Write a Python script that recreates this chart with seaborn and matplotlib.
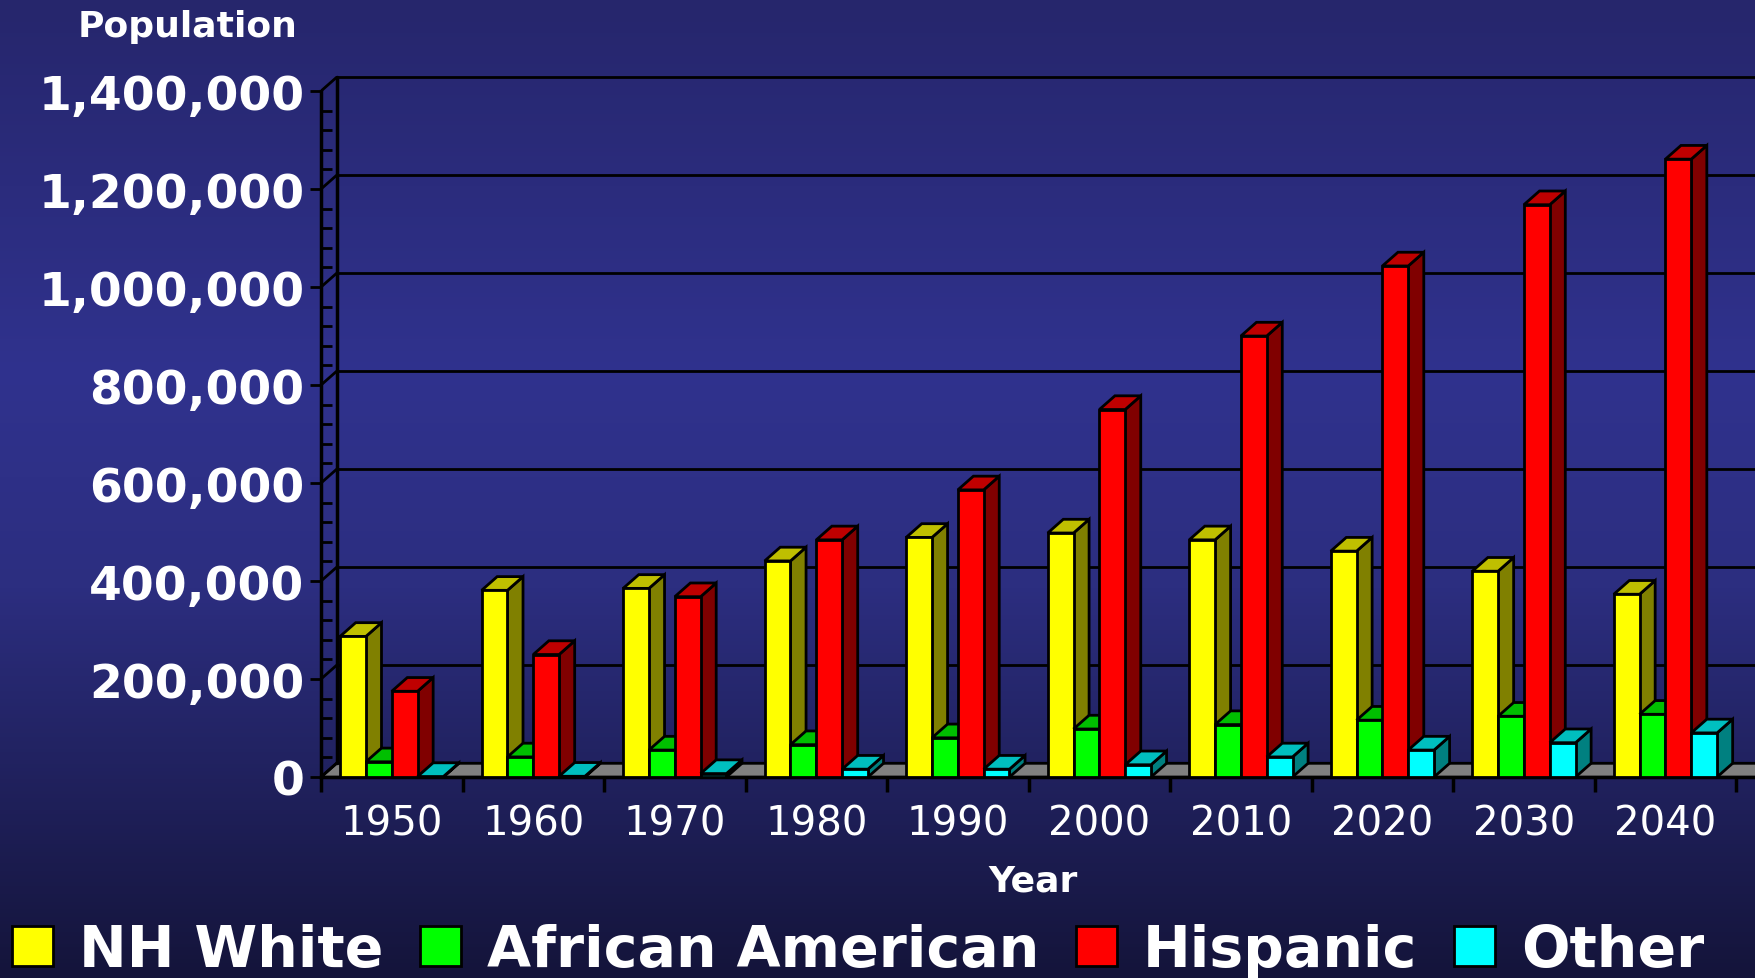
import numpy as np
import pandas as pd
import matplotlib
matplotlib.use("Agg")
import matplotlib.pyplot as plt
from matplotlib.patches import Polygon, Patch
from matplotlib.ticker import FuncFormatter, MultipleLocator, FixedLocator
import seaborn as sns

# ---- data ----
years = ["1950", "1960", "1970", "1980", "1990", "2000", "2010", "2020", "2030", "2040"]
groups = ["NH White", "African American", "Hispanic", "Other"]
nh_white = [287000, 381000, 385000, 441000, 489000, 498000, 484000, 461000, 420000, 373000]
african_american = [31000, 41000, 55000, 66000, 80000, 98000, 107000, 116000, 124000, 128000]
hispanic = [175000, 250000, 368000, 484000, 586000, 750000, 900000, 1043000, 1168000, 1261000]
other = [1000, 1500, 7000, 16000, 16000, 25000, 41000, 55000, 70000, 90000]
colors = ["#ffff00", "#00ff00", "#ff0000", "#00ffff"]

df = pd.DataFrame({
    "Year": years * 4,
    "Group": np.repeat(groups, len(years)),
    "Population": nh_white + african_american + hispanic + other,
})

sns.set_theme(style="white")
plt.rcParams["font.family"] = ["DejaVu Sans"]

fig = plt.figure(figsize=(17.56, 9.79), dpi=100)

# background gradient
bg = fig.add_axes([0, 0, 1, 1], zorder=-5)
stops = np.array([[38, 38, 108], [48, 50, 142], [44, 46, 128], [20, 20, 58]]) / 255.0
pos = np.array([0.0, 0.38, 0.6, 1.0])
yy = np.linspace(0, 1, 256)
grad = np.stack([np.interp(yy, pos, stops[:, c]) for c in range(3)], axis=1)
bg.imshow(grad[:, None, :], aspect="auto", extent=[0, 1, 0, 1], origin="upper")
bg.axis("off")

ax = fig.add_axes([0.1828, 0.2053, 0.8172, 0.7257])
ax.patch.set_alpha(0)

dx, dy = 0.11, 28000   # fake 3D depth
xr = 9.64
ymax = 1400000

sns.barplot(data=df, x="Year", y="Population", hue="Group", palette=colors,
            width=0.73, saturation=1, edgecolor="black", linewidth=2,
            legend=False, ax=ax)

# 3D faces for every bar
bars = sorted(ax.patches, key=lambda p: p.get_x())
for i, p in enumerate(bars):
    x, w, h = p.get_x(), p.get_width(), p.get_height()
    c = np.array(matplotlib.colors.to_rgb(p.get_facecolor()))
    z = 10 + 3 * i
    top = Polygon([(x, h), (x + w, h), (x + w + dx, h + dy), (x + dx, h + dy)],
                  closed=True, facecolor=c * 0.75, edgecolor="black", lw=2, zorder=z)
    side = Polygon([(x + w, 0), (x + w, h), (x + w + dx, h + dy), (x + w + dx, dy)],
                   closed=True, facecolor=c * 0.5, edgecolor="black", lw=2, zorder=z)
    ax.add_patch(side)
    ax.add_patch(top)
    p.set_zorder(z + 1)

# floor
floor = Polygon([(-0.5, 0), (xr + 1, 0), (xr + 1 + dx, dy), (-0.5 + dx, dy)],
                closed=True, facecolor="#808080", edgecolor="black", lw=2, zorder=3)
ax.add_patch(floor)

# back wall gridlines and left wall
for v in range(0, ymax + 1, 200000):
    ax.plot([-0.5 + dx, xr + 1], [v + dy, v + dy], color="black", lw=2, zorder=2)
    ax.plot([-0.5, -0.5 + dx], [v, v + dy], color="black", lw=2, zorder=4)
ax.plot([-0.5 + dx, -0.5 + dx], [dy, ymax + dy], color="black", lw=2.5, zorder=4)

ax.set_xlim(-0.5, xr)
ax.set_ylim(0, 1450000)

for s in ["top", "right"]:
    ax.spines[s].set_visible(False)
ax.spines["left"].set_bounds(0, ymax)
ax.spines["left"].set_linewidth(2.5)
ax.spines["left"].set_color("black")
ax.spines["bottom"].set_linewidth(2.5)
ax.spines["bottom"].set_color("black")
ax.spines["left"].set_zorder(5)

ax.yaxis.set_major_locator(FixedLocator(np.arange(0, ymax + 1, 200000)))
ax.yaxis.set_minor_locator(FixedLocator(np.arange(0, ymax + 1, 40000)))
ax.yaxis.set_major_formatter(FuncFormatter(lambda v, _: f"{int(v):,}"))
ax.tick_params(axis="y", which="major", direction="out", length=8, width=2,
               color="black", labelsize=34, labelcolor="white", pad=4, left=True)
ax.tick_params(axis="y", which="minor", direction="in", length=8, width=2,
               color="black", left=True)
for lab in ax.get_yticklabels():
    lab.set_fontweight("bold")

ax.set_xticks(np.arange(-0.5, 10, 1), minor=True)
ax.tick_params(axis="x", which="major", length=0, labelsize=29,
               labelcolor="white", pad=19)
ax.tick_params(axis="x", which="minor", direction="out", length=11, width=2.5,
               color="black", bottom=True)

ax.set_xlabel("Year", color="white", fontsize=26, fontweight="bold")
ax.xaxis.set_label_coords(0.496, -0.122)
ax.set_ylabel("")

fig.text(0.107, 0.972, "Population", color="white", fontsize=26,
         fontweight="bold", ha="center", va="center")

handles = [Patch(facecolor=c, edgecolor="black", lw=2) for c in colors]
leg = fig.legend(handles, groups, loc="center", bbox_to_anchor=(0.4886, 0.028),
                 ncol=4, frameon=False, fontsize=41, handlelength=0.72,
                 handleheight=0.72, handletextpad=0.45, columnspacing=0.65,
                 borderpad=0)
for t in leg.get_texts():
    t.set_color("white")
    t.set_fontweight("bold")

fig.savefig("out.png", dpi=100)
